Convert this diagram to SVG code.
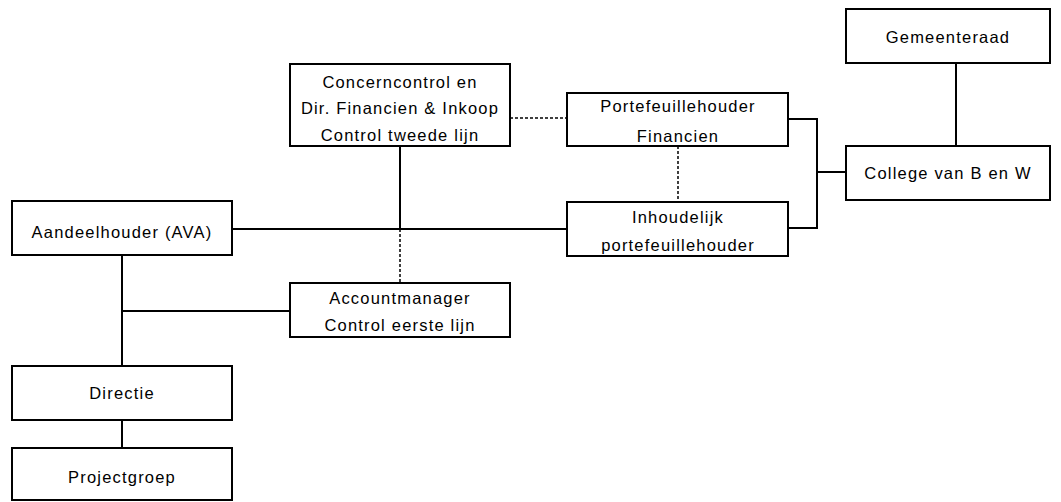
<svg xmlns="http://www.w3.org/2000/svg" width="1061" height="502" viewBox="0 0 1061 502">
<style>
.box{fill:#fff;stroke:#000;stroke-width:2}
.ln{fill:none;stroke:#000;stroke-width:2}
.dl{fill:none;stroke:#000;stroke-width:1.5;stroke-dasharray:3,2}
text{font-family:"Liberation Sans",Arial,sans-serif;font-size:16.5px;fill:#000;text-anchor:middle;letter-spacing:1.2px}
</style>
<rect width="1061" height="502" fill="#fff"/>
<g id="connectors">
<line class="ln" x1="400" y1="146" x2="400" y2="229"/>
<line class="ln" x1="232" y1="229" x2="567" y2="229"/>
<line class="dl" x1="400" y1="229" x2="400" y2="283"/>
<line class="dl" x1="510" y1="118" x2="567" y2="118"/>
<line class="dl" x1="678" y1="146" x2="678" y2="202"/>
<polyline class="ln" points="788,119 817,119 817,228 788,228"/>
<line class="ln" x1="817" y1="172" x2="846" y2="172"/>
<line class="ln" x1="956" y1="63" x2="956" y2="146"/>
<line class="ln" x1="122" y1="255" x2="122" y2="366"/>
<line class="ln" x1="122" y1="311" x2="290" y2="311"/>
<line class="ln" x1="122" y1="420" x2="122" y2="448"/>
</g>
<g id="concerncontrol">
<rect class="box" x="290" y="64" width="220" height="82"/>
<text x="400" y="88">Concerncontrol en</text>
<text x="400" y="114">Dir. Financien &amp; Inkoop</text>
<text x="400" y="141">Control tweede lijn</text>
</g>
<g id="portefeuillehouder-financien">
<rect class="box" x="567" y="93" width="221" height="53"/>
<text x="678" y="112">Portefeuillehouder</text>
<text x="678" y="142">Financien</text>
</g>
<g id="inhoudelijk">
<rect class="box" x="567" y="202" width="221" height="54"/>
<text x="678" y="223">Inhoudelijk</text>
<text x="678" y="251">portefeuillehouder</text>
</g>
<g id="gemeenteraad">
<rect class="box" x="846" y="9" width="204" height="54"/>
<text x="948" y="43">Gemeenteraad</text>
</g>
<g id="college">
<rect class="box" x="846" y="146" width="204" height="54"/>
<text x="948" y="179">College van B en W</text>
</g>
<g id="aandeelhouder">
<rect class="box" x="12" y="201" width="220" height="54"/>
<text x="122" y="238">Aandeelhouder (AVA)</text>
</g>
<g id="accountmanager">
<rect class="box" x="290" y="283" width="220" height="54"/>
<text x="400" y="304">Accountmanager</text>
<text x="400" y="331">Control eerste lijn</text>
</g>
<g id="directie">
<rect class="box" x="12" y="366" width="220" height="54"/>
<text x="122" y="399">Directie</text>
</g>
<g id="projectgroep">
<rect class="box" x="12" y="448" width="220" height="52"/>
<text x="122" y="483">Projectgroep</text>
</g>
</svg>
